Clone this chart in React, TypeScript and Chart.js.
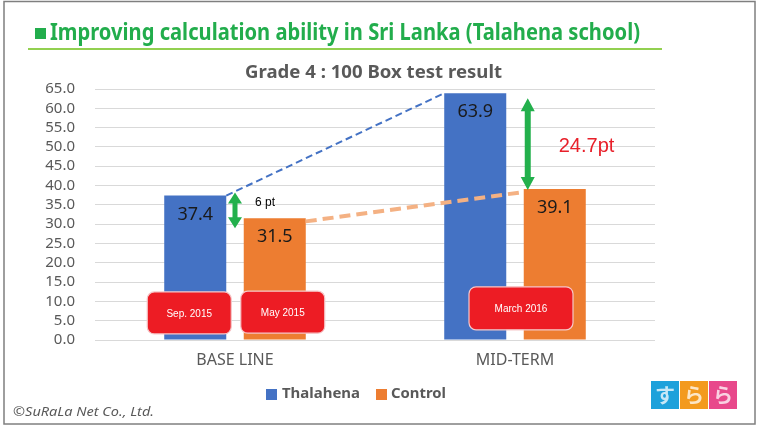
import React, { useEffect, useRef } from "react";
import { Chart, registerables } from "chart.js";

Chart.register(...registerables);

// ---- data ----
const categories = ["BASE LINE", "MID-TERM"];
const seriesNames = ["Thalahena", "Control"];
const thalahenaValues = [37.4, 63.9];
const controlValues = [31.5, 39.1];
const seriesColors = ["#4472c4", "#ed7d31"];
const yMin = 0;
const yMax = 65;
const yStep = 5;
const periodLabels = ["Sep. 2015", "May 2015", "March 2016"];
const gapLabels = ["6 pt", "24.7pt"];
const pageTitle = "Improving calculation ability in Sri Lanka (Talahena school)";
const chartTitle = "Grade 4 : 100 Box test result";
const copyrightText = "\u00A9SuRaLa Net Co., Ltd.";
const logoGlyphs = ["す", "ら", "ら"];

const W = 758;
const H = 427;

function fitText(
  ctx: CanvasRenderingContext2D,
  text: string,
  x: number,
  y: number,
  width: number,
  font: string,
  color: string,
  align: "left" | "center" = "left"
) {
  ctx.save();
  ctx.font = font;
  ctx.fillStyle = color;
  ctx.textBaseline = "middle";
  ctx.textAlign = "left";
  const w = ctx.measureText(text).width;
  const s = width / w;
  const x0 = align === "center" ? x - width / 2 : x;
  ctx.translate(x0, y);
  ctx.scale(s, 1);
  ctx.fillText(text, 0, 0);
  ctx.restore();
}

function plainText(
  ctx: CanvasRenderingContext2D,
  text: string,
  x: number,
  y: number,
  font: string,
  color: string,
  align: CanvasTextAlign = "center"
) {
  ctx.save();
  ctx.font = font;
  ctx.fillStyle = color;
  ctx.textBaseline = "middle";
  ctx.textAlign = align;
  ctx.fillText(text, x, y);
  ctx.restore();
}

function dblArrow(
  ctx: CanvasRenderingContext2D,
  cx: number,
  yTop: number,
  yBot: number,
  shaft: number,
  headW: number,
  headL: number,
  color: string
) {
  ctx.save();
  ctx.fillStyle = color;
  ctx.beginPath();
  ctx.moveTo(cx, yTop);
  ctx.lineTo(cx + headW / 2, yTop + headL);
  ctx.lineTo(cx + shaft / 2, yTop + headL);
  ctx.lineTo(cx + shaft / 2, yBot - headL);
  ctx.lineTo(cx + headW / 2, yBot - headL);
  ctx.lineTo(cx, yBot);
  ctx.lineTo(cx - headW / 2, yBot - headL);
  ctx.lineTo(cx - shaft / 2, yBot - headL);
  ctx.lineTo(cx - shaft / 2, yTop + headL);
  ctx.lineTo(cx - headW / 2, yTop + headL);
  ctx.closePath();
  ctx.fill();
  ctx.restore();
}

function redBox(
  ctx: CanvasRenderingContext2D,
  cx: number,
  cy: number,
  w: number,
  h: number,
  text: string
) {
  ctx.save();
  ctx.beginPath();
  (ctx as any).roundRect(cx - w / 2, cy - h / 2, w, h, 7);
  ctx.fillStyle = "#ed1c24";
  ctx.fill();
  ctx.lineWidth = 1.2;
  ctx.strokeStyle = "#f6c7c9";
  ctx.stroke();
  ctx.restore();
  plainText(ctx, text, cx, cy + 1, "10px 'Liberation Sans', Arial, sans-serif", "#ffffff");
}

const overlayPlugin = {
  id: "overlay",
  afterDraw(chart: any) {
    const ctx: CanvasRenderingContext2D = chart.ctx;
    const xs = chart.scales.x;
    const ys = chart.scales.y;
    const m0 = chart.getDatasetMeta(0).data;
    const m1 = chart.getDatasetMeta(1).data;
    const bw = m0[0].width;

    // frame
    ctx.save();
    ctx.strokeStyle = "#7f7f7f";
    ctx.lineWidth = 1.5;
    ctx.strokeRect(4, 1.5, 751, 422.5);
    ctx.restore();

    // page title
    ctx.save();
    ctx.fillStyle = "#22ad4c";
    ctx.fillRect(35, 28, 11, 11);
    ctx.fillStyle = "#92d050";
    ctx.fillRect(28, 48, 634, 2);
    ctx.restore();
    fitText(ctx, pageTitle, 50, 33, 590, "bold 23px 'Noto Sans', sans-serif", "#22ad4c");

    // chart title
    fitText(ctx, chartTitle, 373.5, 73, 257, "bold 17px 'Noto Sans', sans-serif", "#595959", "center");

    // dashed connectors
    ctx.save();
    ctx.strokeStyle = "#4472c4";
    ctx.lineWidth = 2;
    ctx.setLineDash([7, 4]);
    ctx.beginPath();
    ctx.moveTo(m0[0].x + bw / 2, m0[0].y);
    ctx.lineTo(m0[1].x - bw / 2, m0[1].y);
    ctx.stroke();
    ctx.strokeStyle = "#f4b183";
    ctx.lineWidth = 4;
    ctx.setLineDash([11, 6]);
    ctx.beginPath();
    ctx.moveTo(m1[0].x + bw / 2, m1[0].y + 3);
    ctx.lineTo(m1[1].x - bw / 2, m1[1].y + 3);
    ctx.stroke();
    ctx.restore();

    // value labels
    const valueFont = "18px 'Noto Sans', sans-serif";
    [m0, m1].forEach((meta: any, di: number) => {
      const vals = di === 0 ? thalahenaValues : controlValues;
      meta.forEach((el: any, i: number) => {
        plainText(ctx, vals[i].toFixed(1), el.x, el.y + 19, valueFont, "#1a1a1a");
      });
    });

    // arrows
    const green = "#23b04c";
    const a1x = xs.getPixelForValue(0);
    dblArrow(ctx, a1x, m0[0].y - 3, m1[0].y + 10, 5, 14, 11, green);
    const a2x = m1[1].x - bw / 2 + 4;
    dblArrow(ctx, a2x, m0[1].y + 5, m1[1].y + 1, 6, 14, 13, green);

    plainText(ctx, gapLabels[0], a1x + 20, ys.getPixelForValue(35.5), "12px 'Liberation Sans', Arial, sans-serif", "#000000", "left");
    plainText(ctx, gapLabels[1], a2x + 31, ys.getPixelForValue(50), "20px 'Liberation Sans', Arial, sans-serif", "#e8202a", "left");

    // period boxes
    redBox(ctx, m0[0].x - 6, ys.getPixelForValue(7), 84, 42, periodLabels[0]);
    redBox(ctx, m1[0].x + 8, ys.getPixelForValue(7.2), 84, 42, periodLabels[1]);
    redBox(ctx, xs.getPixelForValue(1) + 6, ys.getPixelForValue(8.2), 104, 43, periodLabels[2]);

    // legend
    const legendFont = "bold 15px 'Noto Sans', sans-serif";
    ctx.save();
    ctx.fillStyle = seriesColors[0];
    ctx.fillRect(266, 389, 11, 11);
    ctx.fillStyle = seriesColors[1];
    ctx.fillRect(376, 389, 11, 11);
    ctx.restore();
    fitText(ctx, seriesNames[0], 282, 394, 78, legendFont, "#595959");
    fitText(ctx, seriesNames[1], 391, 394, 55, legendFont, "#595959");

    // copyright
    fitText(ctx, copyrightText, 13, 412, 141, "italic 13px 'Noto Sans', sans-serif", "#595959");

    // logo
    const logoColors = ["#1da1db", "#f39a1e", "#e8488b"];
    logoColors.forEach((c, i) => {
      const lx = 651 + i * 29;
      ctx.save();
      ctx.fillStyle = c;
      ctx.fillRect(lx, 381, 28, 28);
      ctx.restore();
      plainText(ctx, logoGlyphs[i], lx + 14, 395, "bold 20px 'Noto Sans CJK JP', sans-serif", "rgba(255,255,255,0.75)");
    });
  },
};

export default function App() {
  const ref = useRef<HTMLCanvasElement | null>(null);

  useEffect(() => {
    if (!ref.current) return;
    const chart = new Chart(ref.current, {
      type: "bar",
      data: {
        labels: categories,
        datasets: [
          {
            label: seriesNames[0],
            data: thalahenaValues,
            backgroundColor: seriesColors[0],
            barPercentage: 0.78,
            categoryPercentage: 0.568,
          },
          {
            label: seriesNames[1],
            data: controlValues,
            backgroundColor: seriesColors[1],
            barPercentage: 0.78,
            categoryPercentage: 0.568,
          },
        ],
      },
      options: {
        responsive: false,
        animation: false,
        devicePixelRatio: 1,
        layout: { padding: { left: 0, right: 103, top: 89, bottom: 47 } },
        plugins: {
          legend: { display: false },
          title: { display: false },
          tooltip: { enabled: false },
        },
        scales: {
          x: {
            grid: { display: false, drawTicks: false },
            border: { display: false },
            ticks: {
              color: "#595959",
              font: { family: "'Noto Sans', sans-serif", size: 16 },
              padding: 11,
            },
            afterFit: (s: any) => {
              s.height = 40;
            },
          },
          y: {
            min: yMin,
            max: yMax,
            ticks: {
              stepSize: yStep,
              autoSkip: false,
              color: "#595959",
              font: { family: "'Noto Sans', sans-serif", size: 15, lineHeight: 1 },
              padding: 20,
              callback: (v: any) => Number(v).toFixed(1),
            },
            grid: { color: "#d9d9d9", lineWidth: 1, drawTicks: false },
            border: { display: false },
            afterFit: (s: any) => {
              s.width = 95;
            },
          },
        },
      },
      plugins: [overlayPlugin],
    });
    return () => chart.destroy();
  }, []);

  return (
    <div style={{ position: "absolute", left: 0, top: 0, width: W, height: H, background: "#ffffff" }}>
      <canvas ref={ref} width={W} height={H} style={{ display: "block", width: W, height: H }} />
    </div>
  );
}
